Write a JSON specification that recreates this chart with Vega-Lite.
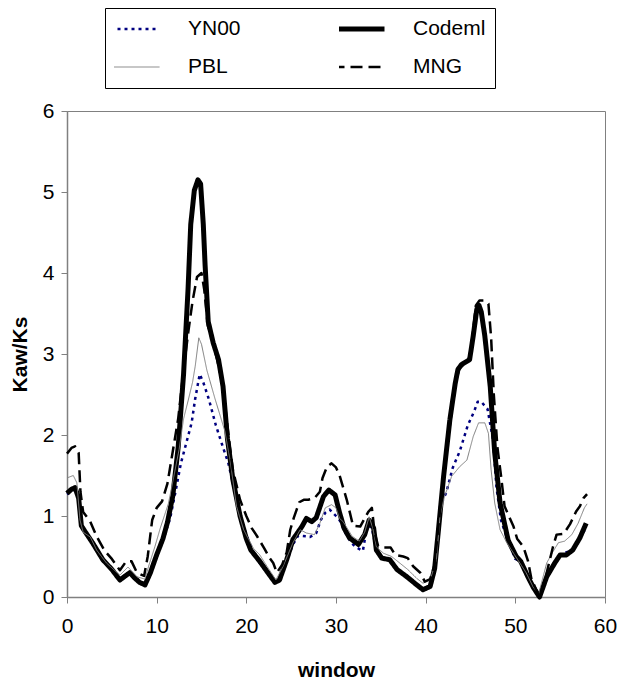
{
"$schema": "https://vega.github.io/schema/vega-lite/v6.json",
"width": 538, "height": 486,
"autosize": {"type": "none"},
"padding": {"left": 67, "top": 111, "right": 19, "bottom": 92},
"background": "white",
"config": {
 "font": "Liberation Sans",
 "view": {"stroke": "#808080", "strokeWidth": 1},
 "axis": {"domainColor": "#808080", "domainWidth": 1.5, "tickColor": "#808080", "tickSize": 6, "tickWidth": 1, "labelFont": "Liberation Sans", "labelFontSize": 21, "labelColor": "#000000", "titleFont": "Liberation Sans", "titleFontSize": 21, "titleFontWeight": "bold", "titleColor": "#000000", "grid": false},
 "legend": {"orient": "none", "legendX": 38, "legendY": -103, "columns": 2, "columnPadding": 98, "rowPadding": 14, "padding": 9, "strokeColor": "#000000", "symbolType": "stroke", "symbolSize": 4900, "clipHeight": 24, "labelFont": "Liberation Sans", "labelFontSize": 21, "labelColor": "#000000", "labelOffset": 53, "title": null, "gridAlign": "each"}
},
"data": {"values": [
{"method":"YN00","window":0,"ratio":1.27},{"method":"YN00","window":0.9,"ratio":1.33},{"method":"YN00","window":1.3,"ratio":1.2},{"method":"YN00","window":1.6,"ratio":0.86},{"method":"YN00","window":2.0,"ratio":0.8},{"method":"YN00","window":2.9,"ratio":0.65},{"method":"YN00","window":4.0,"ratio":0.45},{"method":"YN00","window":5.0,"ratio":0.33},{"method":"YN00","window":5.9,"ratio":0.21},{"method":"YN00","window":7.0,"ratio":0.29},{"method":"YN00","window":8.1,"ratio":0.18},{"method":"YN00","window":8.7,"ratio":0.16},{"method":"YN00","window":9.3,"ratio":0.3},{"method":"YN00","window":10.0,"ratio":0.5},{"method":"YN00","window":10.7,"ratio":0.7},{"method":"YN00","window":11.5,"ratio":0.97},{"method":"YN00","window":12.1,"ratio":1.3},{"method":"YN00","window":12.7,"ratio":1.65},{"method":"YN00","window":13.3,"ratio":1.9},{"method":"YN00","window":13.9,"ratio":2.15},{"method":"YN00","window":14.3,"ratio":2.45},{"method":"YN00","window":14.8,"ratio":2.75},{"method":"YN00","window":15.2,"ratio":2.65},{"method":"YN00","window":15.8,"ratio":2.45},{"method":"YN00","window":16.6,"ratio":2.12},{"method":"YN00","window":17.3,"ratio":1.88},{"method":"YN00","window":18.0,"ratio":1.65},{"method":"YN00","window":18.5,"ratio":1.4},{"method":"YN00","window":19.0,"ratio":1.15},{"method":"YN00","window":19.6,"ratio":0.9},{"method":"YN00","window":20.3,"ratio":0.68},{"method":"YN00","window":21.0,"ratio":0.5},{"method":"YN00","window":21.5,"ratio":0.42},{"method":"YN00","window":22.6,"ratio":0.26},{"method":"YN00","window":23.2,"ratio":0.18},{"method":"YN00","window":23.7,"ratio":0.2},{"method":"YN00","window":24.5,"ratio":0.44},{"method":"YN00","window":25.2,"ratio":0.65},{"method":"YN00","window":25.8,"ratio":0.76},{"method":"YN00","window":26.7,"ratio":0.75},{"method":"YN00","window":27.1,"ratio":0.74},{"method":"YN00","window":27.8,"ratio":0.79},{"method":"YN00","window":28.3,"ratio":0.95},{"method":"YN00","window":28.8,"ratio":1.04},{"method":"YN00","window":29.3,"ratio":1.08},{"method":"YN00","window":30.0,"ratio":1.0},{"method":"YN00","window":30.4,"ratio":0.95},{"method":"YN00","window":31.0,"ratio":0.8},{"method":"YN00","window":31.7,"ratio":0.67},{"method":"YN00","window":32.3,"ratio":0.61},{"method":"YN00","window":33.0,"ratio":0.57},{"method":"YN00","window":33.5,"ratio":0.9},{"method":"YN00","window":34.0,"ratio":0.85},{"method":"YN00","window":34.5,"ratio":0.58},{"method":"YN00","window":35.1,"ratio":0.48},{"method":"YN00","window":36.0,"ratio":0.46},{"method":"YN00","window":36.8,"ratio":0.34},{"method":"YN00","window":37.9,"ratio":0.25},{"method":"YN00","window":39.0,"ratio":0.15},{"method":"YN00","window":39.7,"ratio":0.1},{"method":"YN00","window":40.5,"ratio":0.13},{"method":"YN00","window":41.0,"ratio":0.35},{"method":"YN00","window":41.6,"ratio":1.12},{"method":"YN00","window":42.3,"ratio":1.29},{"method":"YN00","window":43.0,"ratio":1.59},{"method":"YN00","window":43.8,"ratio":1.8},{"method":"YN00","window":44.7,"ratio":2.12},{"method":"YN00","window":45.4,"ratio":2.29},{"method":"YN00","window":45.8,"ratio":2.41},{"method":"YN00","window":46.2,"ratio":2.41},{"method":"YN00","window":46.9,"ratio":2.32},{"method":"YN00","window":47.5,"ratio":1.95},{"method":"YN00","window":47.9,"ratio":1.35},{"method":"YN00","window":48.4,"ratio":0.95},{"method":"YN00","window":49.0,"ratio":0.75},{"method":"YN00","window":50.0,"ratio":0.47},{"method":"YN00","window":50.6,"ratio":0.44},{"method":"YN00","window":51.4,"ratio":0.25},{"method":"YN00","window":52.0,"ratio":0.12},{"method":"YN00","window":52.7,"ratio":0.01},{"method":"YN00","window":53.5,"ratio":0.25},{"method":"YN00","window":54.4,"ratio":0.42},{"method":"YN00","window":55.0,"ratio":0.52},{"method":"YN00","window":55.9,"ratio":0.56},{"method":"YN00","window":56.4,"ratio":0.58},{"method":"YN00","window":57.3,"ratio":0.76},{"method":"YN00","window":57.9,"ratio":0.85},
{"method":"Codeml","window":0,"ratio":1.28},{"method":"Codeml","window":0.5,"ratio":1.33},{"method":"Codeml","window":0.9,"ratio":1.35},{"method":"Codeml","window":1.3,"ratio":1.22},{"method":"Codeml","window":1.6,"ratio":0.88},{"method":"Codeml","window":2.0,"ratio":0.81},{"method":"Codeml","window":2.9,"ratio":0.66},{"method":"Codeml","window":4.0,"ratio":0.46},{"method":"Codeml","window":5.0,"ratio":0.34},{"method":"Codeml","window":5.9,"ratio":0.21},{"method":"Codeml","window":6.5,"ratio":0.26},{"method":"Codeml","window":7.0,"ratio":0.3},{"method":"Codeml","window":7.6,"ratio":0.23},{"method":"Codeml","window":8.1,"ratio":0.18},{"method":"Codeml","window":8.7,"ratio":0.15},{"method":"Codeml","window":9.3,"ratio":0.3},{"method":"Codeml","window":10.0,"ratio":0.52},{"method":"Codeml","window":10.7,"ratio":0.72},{"method":"Codeml","window":11.2,"ratio":0.92},{"method":"Codeml","window":11.8,"ratio":1.25},{"method":"Codeml","window":12.4,"ratio":1.85},{"method":"Codeml","window":13.0,"ratio":2.75},{"method":"Codeml","window":13.5,"ratio":3.8},{"method":"Codeml","window":13.8,"ratio":4.6},{"method":"Codeml","window":14.2,"ratio":5.02},{"method":"Codeml","window":14.6,"ratio":5.15},{"method":"Codeml","window":14.9,"ratio":5.1},{"method":"Codeml","window":15.2,"ratio":4.6},{"method":"Codeml","window":15.4,"ratio":4.1},{"method":"Codeml","window":15.75,"ratio":3.4},{"method":"Codeml","window":16.3,"ratio":3.14},{"method":"Codeml","window":16.9,"ratio":2.93},{"method":"Codeml","window":17.4,"ratio":2.6},{"method":"Codeml","window":17.9,"ratio":1.95},{"method":"Codeml","window":18.5,"ratio":1.45},{"method":"Codeml","window":19.3,"ratio":1.0},{"method":"Codeml","window":20.0,"ratio":0.72},{"method":"Codeml","window":20.5,"ratio":0.58},{"method":"Codeml","window":21.5,"ratio":0.44},{"method":"Codeml","window":22.6,"ratio":0.27},{"method":"Codeml","window":23.2,"ratio":0.18},{"method":"Codeml","window":23.7,"ratio":0.21},{"method":"Codeml","window":24.5,"ratio":0.46},{"method":"Codeml","window":25.2,"ratio":0.71},{"method":"Codeml","window":26.2,"ratio":0.87},{"method":"Codeml","window":26.7,"ratio":0.97},{"method":"Codeml","window":27.3,"ratio":0.93},{"method":"Codeml","window":27.8,"ratio":0.98},{"method":"Codeml","window":28.6,"ratio":1.24},{"method":"Codeml","window":29.2,"ratio":1.32},{"method":"Codeml","window":29.9,"ratio":1.26},{"method":"Codeml","window":30.4,"ratio":1.04},{"method":"Codeml","window":30.9,"ratio":0.85},{"method":"Codeml","window":31.5,"ratio":0.73},{"method":"Codeml","window":32.5,"ratio":0.65},{"method":"Codeml","window":33.2,"ratio":0.77},{"method":"Codeml","window":33.7,"ratio":0.95},{"method":"Codeml","window":34.2,"ratio":0.85},{"method":"Codeml","window":34.5,"ratio":0.58},{"method":"Codeml","window":35.1,"ratio":0.48},{"method":"Codeml","window":36.0,"ratio":0.46},{"method":"Codeml","window":36.8,"ratio":0.34},{"method":"Codeml","window":37.9,"ratio":0.25},{"method":"Codeml","window":39.0,"ratio":0.15},{"method":"Codeml","window":39.7,"ratio":0.09},{"method":"Codeml","window":40.5,"ratio":0.13},{"method":"Codeml","window":41.0,"ratio":0.35},{"method":"Codeml","window":41.4,"ratio":0.8},{"method":"Codeml","window":42.0,"ratio":1.49},{"method":"Codeml","window":42.7,"ratio":2.19},{"method":"Codeml","window":43.3,"ratio":2.64},{"method":"Codeml","window":43.6,"ratio":2.81},{"method":"Codeml","window":44.0,"ratio":2.87},{"method":"Codeml","window":44.9,"ratio":2.93},{"method":"Codeml","window":45.3,"ratio":3.22},{"method":"Codeml","window":45.7,"ratio":3.55},{"method":"Codeml","window":45.95,"ratio":3.6},{"method":"Codeml","window":46.2,"ratio":3.52},{"method":"Codeml","window":46.6,"ratio":3.22},{"method":"Codeml","window":47.2,"ratio":2.6},{"method":"Codeml","window":47.7,"ratio":1.78},{"method":"Codeml","window":48.3,"ratio":1.16},{"method":"Codeml","window":49.2,"ratio":0.7},{"method":"Codeml","window":50.1,"ratio":0.5},{"method":"Codeml","window":50.6,"ratio":0.44},{"method":"Codeml","window":51.4,"ratio":0.25},{"method":"Codeml","window":52.0,"ratio":0.12},{"method":"Codeml","window":52.7,"ratio":0.0},{"method":"Codeml","window":53.5,"ratio":0.25},{"method":"Codeml","window":54.4,"ratio":0.42},{"method":"Codeml","window":55.0,"ratio":0.52},{"method":"Codeml","window":55.7,"ratio":0.52},{"method":"Codeml","window":56.4,"ratio":0.58},{"method":"Codeml","window":57.2,"ratio":0.73},{"method":"Codeml","window":57.9,"ratio":0.91},
{"method":"PBL","window":0,"ratio":1.47},{"method":"PBL","window":0.7,"ratio":1.5},{"method":"PBL","window":1.1,"ratio":1.41},{"method":"PBL","window":1.45,"ratio":0.95},{"method":"PBL","window":1.8,"ratio":0.8},{"method":"PBL","window":2.6,"ratio":0.74},{"method":"PBL","window":3.3,"ratio":0.58},{"method":"PBL","window":4.4,"ratio":0.42},{"method":"PBL","window":5.9,"ratio":0.27},{"method":"PBL","window":6.8,"ratio":0.37},{"method":"PBL","window":7.8,"ratio":0.25},{"method":"PBL","window":8.7,"ratio":0.22},{"method":"PBL","window":9.1,"ratio":0.38},{"method":"PBL","window":9.8,"ratio":0.62},{"method":"PBL","window":10.4,"ratio":0.85},{"method":"PBL","window":11.3,"ratio":1.15},{"method":"PBL","window":11.9,"ratio":1.48},{"method":"PBL","window":12.5,"ratio":1.82},{"method":"PBL","window":13.0,"ratio":2.2},{"method":"PBL","window":13.5,"ratio":2.42},{"method":"PBL","window":14.0,"ratio":2.65},{"method":"PBL","window":14.3,"ratio":2.85},{"method":"PBL","window":14.7,"ratio":3.2},{"method":"PBL","window":15.0,"ratio":3.12},{"method":"PBL","window":15.6,"ratio":2.8},{"method":"PBL","window":16.5,"ratio":2.45},{"method":"PBL","window":17.6,"ratio":2.05},{"method":"PBL","window":18.2,"ratio":1.68},{"method":"PBL","window":18.9,"ratio":1.12},{"method":"PBL","window":19.7,"ratio":0.83},{"method":"PBL","window":20.8,"ratio":0.6},{"method":"PBL","window":21.5,"ratio":0.52},{"method":"PBL","window":22.3,"ratio":0.38},{"method":"PBL","window":23.3,"ratio":0.21},{"method":"PBL","window":24.1,"ratio":0.38},{"method":"PBL","window":25.2,"ratio":0.67},{"method":"PBL","window":26.0,"ratio":0.83},{"method":"PBL","window":26.7,"ratio":0.79},{"method":"PBL","window":27.6,"ratio":0.77},{"method":"PBL","window":28.2,"ratio":0.91},{"method":"PBL","window":28.8,"ratio":1.1},{"method":"PBL","window":29.5,"ratio":1.14},{"method":"PBL","window":30.0,"ratio":1.1},{"method":"PBL","window":30.4,"ratio":0.97},{"method":"PBL","window":30.8,"ratio":0.93},{"method":"PBL","window":31.8,"ratio":0.75},{"method":"PBL","window":32.6,"ratio":0.69},{"method":"PBL","window":33.2,"ratio":0.8},{"method":"PBL","window":33.7,"ratio":0.99},{"method":"PBL","window":34.1,"ratio":0.85},{"method":"PBL","window":34.5,"ratio":0.62},{"method":"PBL","window":35.3,"ratio":0.54},{"method":"PBL","window":36.2,"ratio":0.5},{"method":"PBL","window":37.1,"ratio":0.42},{"method":"PBL","window":38.0,"ratio":0.34},{"method":"PBL","window":39.0,"ratio":0.23},{"method":"PBL","window":39.7,"ratio":0.17},{"method":"PBL","window":40.5,"ratio":0.21},{"method":"PBL","window":41.2,"ratio":0.46},{"method":"PBL","window":41.6,"ratio":1.0},{"method":"PBL","window":42.1,"ratio":1.24},{"method":"PBL","window":42.9,"ratio":1.49},{"method":"PBL","window":43.8,"ratio":1.61},{"method":"PBL","window":44.6,"ratio":1.69},{"method":"PBL","window":45.3,"ratio":1.98},{"method":"PBL","window":45.9,"ratio":2.15},{"method":"PBL","window":46.6,"ratio":2.15},{"method":"PBL","window":47.0,"ratio":2.02},{"method":"PBL","window":47.3,"ratio":1.57},{"method":"PBL","window":47.7,"ratio":1.16},{"method":"PBL","window":48.3,"ratio":0.83},{"method":"PBL","window":49.0,"ratio":0.68},{"method":"PBL","window":49.8,"ratio":0.54},{"method":"PBL","window":50.5,"ratio":0.42},{"method":"PBL","window":51.2,"ratio":0.3},{"method":"PBL","window":52.0,"ratio":0.12},{"method":"PBL","window":52.6,"ratio":0.04},{"method":"PBL","window":53.5,"ratio":0.42},{"method":"PBL","window":54.2,"ratio":0.56},{"method":"PBL","window":54.8,"ratio":0.67},{"method":"PBL","window":55.5,"ratio":0.69},{"method":"PBL","window":56.3,"ratio":0.77},{"method":"PBL","window":57.0,"ratio":0.91},{"method":"PBL","window":57.7,"ratio":1.1},{"method":"PBL","window":58.0,"ratio":1.15},
{"method":"MNG","window":0,"ratio":1.77},{"method":"MNG","window":0.5,"ratio":1.84},{"method":"MNG","window":0.9,"ratio":1.86},{"method":"MNG","window":1.3,"ratio":1.78},{"method":"MNG","window":1.5,"ratio":1.3},{"method":"MNG","window":1.8,"ratio":1.05},{"method":"MNG","window":2.6,"ratio":0.93},{"method":"MNG","window":3.3,"ratio":0.75},{"method":"MNG","window":4.2,"ratio":0.57},{"method":"MNG","window":5.0,"ratio":0.47},{"method":"MNG","window":5.9,"ratio":0.33},{"method":"MNG","window":6.6,"ratio":0.44},{"method":"MNG","window":7.2,"ratio":0.44},{"method":"MNG","window":7.8,"ratio":0.3},{"method":"MNG","window":8.6,"ratio":0.26},{"method":"MNG","window":9.0,"ratio":0.5},{"method":"MNG","window":9.5,"ratio":0.95},{"method":"MNG","window":10.0,"ratio":1.1},{"method":"MNG","window":10.6,"ratio":1.18},{"method":"MNG","window":11.2,"ratio":1.4},{"method":"MNG","window":11.8,"ratio":1.8},{"method":"MNG","window":12.4,"ratio":2.2},{"method":"MNG","window":13.0,"ratio":2.8},{"method":"MNG","window":13.5,"ratio":3.25},{"method":"MNG","window":14.0,"ratio":3.65},{"method":"MNG","window":14.5,"ratio":3.95},{"method":"MNG","window":15.0,"ratio":4.0},{"method":"MNG","window":15.3,"ratio":3.8},{"method":"MNG","window":15.7,"ratio":3.35},{"method":"MNG","window":16.3,"ratio":3.14},{"method":"MNG","window":16.9,"ratio":2.85},{"method":"MNG","window":17.4,"ratio":2.6},{"method":"MNG","window":17.9,"ratio":2.1},{"method":"MNG","window":18.5,"ratio":1.57},{"method":"MNG","window":19.3,"ratio":1.2},{"method":"MNG","window":20.0,"ratio":1.0},{"method":"MNG","window":20.6,"ratio":0.85},{"method":"MNG","window":21.2,"ratio":0.75},{"method":"MNG","window":22.0,"ratio":0.6},{"method":"MNG","window":22.6,"ratio":0.48},{"method":"MNG","window":23.0,"ratio":0.42},{"method":"MNG","window":23.4,"ratio":0.3},{"method":"MNG","window":24.0,"ratio":0.4},{"method":"MNG","window":24.5,"ratio":0.55},{"method":"MNG","window":24.9,"ratio":0.83},{"method":"MNG","window":25.3,"ratio":0.98},{"method":"MNG","window":25.9,"ratio":1.17},{"method":"MNG","window":26.4,"ratio":1.2},{"method":"MNG","window":26.9,"ratio":1.2},{"method":"MNG","window":27.6,"ratio":1.22},{"method":"MNG","window":28.2,"ratio":1.3},{"method":"MNG","window":28.5,"ratio":1.47},{"method":"MNG","window":29.0,"ratio":1.61},{"method":"MNG","window":29.5,"ratio":1.65},{"method":"MNG","window":30.0,"ratio":1.6},{"method":"MNG","window":30.4,"ratio":1.5},{"method":"MNG","window":30.8,"ratio":1.35},{"method":"MNG","window":31.2,"ratio":1.2},{"method":"MNG","window":31.9,"ratio":0.88},{"method":"MNG","window":32.7,"ratio":0.87},{"method":"MNG","window":33.2,"ratio":0.97},{"method":"MNG","window":33.6,"ratio":1.05},{"method":"MNG","window":34.0,"ratio":1.1},{"method":"MNG","window":34.3,"ratio":0.8},{"method":"MNG","window":34.7,"ratio":0.63},{"method":"MNG","window":35.2,"ratio":0.61},{"method":"MNG","window":36.1,"ratio":0.61},{"method":"MNG","window":36.6,"ratio":0.52},{"method":"MNG","window":37.5,"ratio":0.5},{"method":"MNG","window":38.0,"ratio":0.48},{"method":"MNG","window":38.6,"ratio":0.38},{"method":"MNG","window":39.4,"ratio":0.3},{"method":"MNG","window":39.9,"ratio":0.19},{"method":"MNG","window":40.5,"ratio":0.22},{"method":"MNG","window":41.0,"ratio":0.4},{"method":"MNG","window":41.4,"ratio":0.85},{"method":"MNG","window":42.0,"ratio":1.5},{"method":"MNG","window":42.7,"ratio":2.12},{"method":"MNG","window":43.3,"ratio":2.64},{"method":"MNG","window":43.8,"ratio":2.83},{"method":"MNG","window":44.4,"ratio":2.88},{"method":"MNG","window":45.0,"ratio":2.98},{"method":"MNG","window":45.3,"ratio":3.3},{"method":"MNG","window":45.6,"ratio":3.6},{"method":"MNG","window":46.0,"ratio":3.66},{"method":"MNG","window":46.6,"ratio":3.66},{"method":"MNG","window":47.0,"ratio":3.62},{"method":"MNG","window":47.3,"ratio":3.2},{"method":"MNG","window":47.6,"ratio":2.5},{"method":"MNG","window":48.0,"ratio":1.85},{"method":"MNG","window":48.4,"ratio":1.5},{"method":"MNG","window":48.8,"ratio":1.12},{"method":"MNG","window":49.4,"ratio":0.97},{"method":"MNG","window":49.8,"ratio":0.87},{"method":"MNG","window":50.2,"ratio":0.72},{"method":"MNG","window":50.9,"ratio":0.62},{"method":"MNG","window":51.4,"ratio":0.45},{"method":"MNG","window":51.8,"ratio":0.22},{"method":"MNG","window":52.7,"ratio":0.0},{"method":"MNG","window":53.5,"ratio":0.3},{"method":"MNG","window":54.2,"ratio":0.62},{"method":"MNG","window":54.6,"ratio":0.77},{"method":"MNG","window":55.4,"ratio":0.78},{"method":"MNG","window":56.1,"ratio":0.9},{"method":"MNG","window":56.8,"ratio":1.06},{"method":"MNG","window":57.2,"ratio":1.12},{"method":"MNG","window":57.6,"ratio":1.22},{"method":"MNG","window":58.0,"ratio":1.27}
]},
"mark": {"type": "line", "strokeCap": "butt", "strokeJoin": "round"},
"encoding": {
 "x": {"field": "window", "type": "quantitative", "scale": {"domain": [0, 60], "nice": false}, "axis": {"values": [0, 10, 20, 30, 40, 50, 60], "title": "window", "labelPadding": 12, "titlePadding": 23, "labelFlush": false}},
 "y": {"field": "ratio", "type": "quantitative", "scale": {"domain": [0, 6], "nice": false}, "axis": {"values": [0, 1, 2, 3, 4, 5, 6], "title": "Kaw/Ks", "labelPadding": 7, "titlePadding": 12}},
 "color": {"field": "method", "type": "nominal", "scale": {"domain": ["YN00", "PBL", "Codeml", "MNG"], "range": ["#000080", "#7f7f7f", "#000000", "#000000"]}, "legend": {"labelExpr": "datum.label == 'Codeml' || datum.label == 'MNG' ? datum.label + '\u2003\u2002' : datum.label", "encode": {"symbols": {"update": {"strokeWidth": {"signal": "datum.value == 'Codeml' ? 5 : datum.value == 'PBL' ? 1 : 2.5"}}}}}},
 "strokeDash": {"field": "method", "type": "nominal", "scale": {"domain": ["YN00", "PBL", "Codeml", "MNG"], "range": [[3, 4], [1, 0], [1, 0], [12, 6]]}, "legend": {"labelExpr": "datum.label == 'Codeml' || datum.label == 'MNG' ? datum.label + '\u2003\u2002' : datum.label", "encode": {"symbols": {"update": {"strokeWidth": {"signal": "datum.value == 'Codeml' ? 5 : datum.value == 'PBL' ? 1 : 2.5"}}}}}},
 "strokeWidth": {"condition": [{"test": "datum.method == 'Codeml'", "value": 5}, {"test": "datum.method == 'PBL'", "value": 1}], "value": 2.5}
}
}
